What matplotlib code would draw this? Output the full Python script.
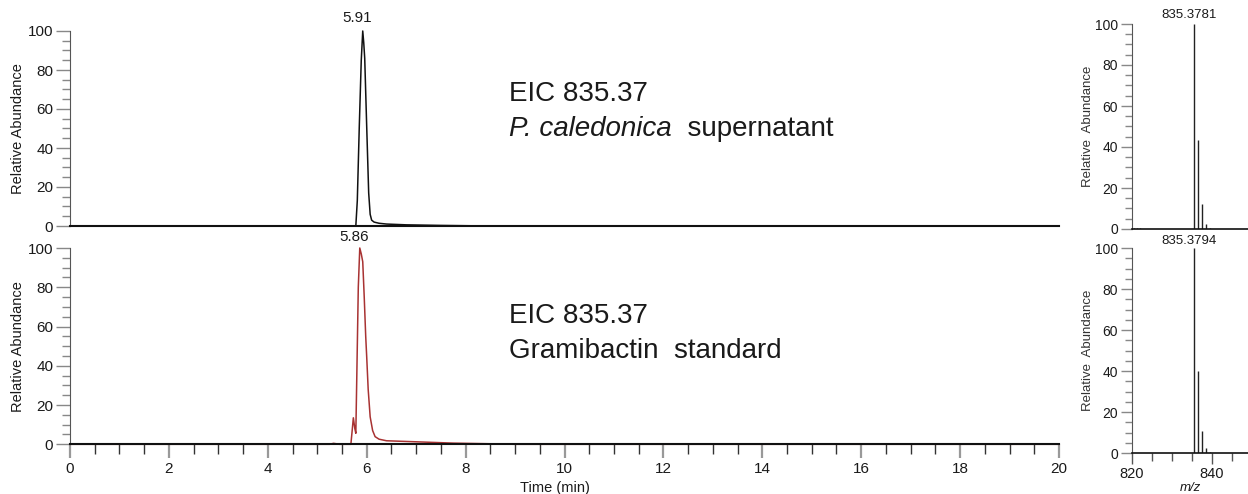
import matplotlib
matplotlib.use("Agg")
import matplotlib.pyplot as plt
from matplotlib.ticker import MultipleLocator

plt.rcParams['font.family'] = ['Liberation Sans', 'DejaVu Sans']

# chromatogram, P. caledonica supernatant (EIC 835.37)
sup_time = [0, 5.78, 5.81, 5.85, 5.89, 5.92, 5.94, 5.96, 6.00, 6.04, 6.07, 6.10,
            6.15, 6.25, 6.40, 6.80, 7.50, 8.50, 20]
sup_int = [0, 0, 13, 51, 85, 100, 94, 86, 51, 17, 6, 3,
           2.0, 1.4, 1.0, 0.6, 0.3, 0, 0]

# chromatogram, gramibactin standard (EIC 835.37)
std_time = [0, 5.25, 5.33, 5.45, 5.68, 5.71, 5.73, 5.76, 5.78, 5.80, 5.83, 5.86,
            5.89, 5.92, 5.95, 5.98, 6.00, 6.03, 6.07, 6.12, 6.17, 6.25, 6.40,
            7.08, 7.75, 8.43, 9.0, 20]
std_int = [0, 0, 0.5, 0, 0, 8, 13.5, 8, 5.6, 35, 80, 100,
           97, 93, 75, 55, 44.6, 28, 14, 7, 3.9, 2.6, 1.8,
           1.2, 0.6, 0.3, 0, 0]

# mass spectra
ms_top_mz = [820.6, 821.3, 822.1, 835.3781, 836.38, 837.38, 838.38, 839.38]
ms_top_int = [0.7, 0.5, 0.4, 100, 43.5, 12, 2.5, 0.6]
ms_bot_mz = [835.3794, 836.38, 837.38, 838.38, 839.38]
ms_bot_int = [100, 40, 10.5, 2.5, 0.5]

W, H = 1248, 494
fig = plt.figure(figsize=(W / 100, H / 100), dpi=100)

ax1 = fig.add_axes([70 / W, 1 - 226 / H, 989 / W, 195 / H])
ax2 = fig.add_axes([70 / W, 1 - 444.3 / H, 989 / W, 196.3 / H])
ms1 = fig.add_axes([1132 / W, 1 - 229 / H, 116 / W, 205 / H])
ms2 = fig.add_axes([1132 / W, 1 - 453 / H, 116 / W, 205 / H])

txt = '#1a1a1a'


def style_y(ax, fs, maj_len, min_len):
    for s in ['top', 'right']:
        ax.spines[s].set_visible(False)
    ax.spines['left'].set_color('#555555')
    ax.spines['bottom'].set_color('#111111')
    ax.set_ylim(0, 100)
    ax.yaxis.set_major_locator(MultipleLocator(20))
    ax.yaxis.set_minor_locator(MultipleLocator(5))
    ax.tick_params(axis='y', which='major', length=maj_len, width=1, color='#888888',
                   labelsize=fs, labelcolor=txt, pad=2)
    ax.tick_params(axis='y', which='minor', length=min_len, width=1, color='#888888')


# chromatograms
ax1.plot(sup_time, sup_int, color='#111111', lw=1.1, clip_on=False)
ax2.plot(std_time, std_int, color='#a83232', lw=1.1, clip_on=False)
for ax in (ax1, ax2):
    style_y(ax, 11, 10, 6)
    ax.set_xlim(0, 20)
    ax.set_ylabel('Relative Abundance', fontsize=10.5, color=txt, labelpad=2)
    ax.spines['bottom'].set_linewidth(1.5)

ax1.tick_params(axis='x', bottom=False, labelbottom=False)
ax2.xaxis.set_major_locator(MultipleLocator(2))
ax2.xaxis.set_minor_locator(MultipleLocator(0.5))
ax2.tick_params(axis='x', which='major', length=10, width=1.6, color='#999999',
                labelsize=11, labelcolor=txt, pad=3)
ax2.tick_params(axis='x', which='minor', length=7, width=1, color='#333333')
ax2.set_xlabel('Time (min)', fontsize=10.5, color=txt, labelpad=3)
ax2.xaxis.set_label_coords(0.49, -0.185)

ax1.annotate('5.91', (5.91, 100), xytext=(-4, 4), textcoords='offset points',
             ha='center', va='bottom', fontsize=11, color=txt, annotation_clip=False)
ax2.annotate('5.86', (5.86, 100), xytext=(-4, 3), textcoords='offset points',
             ha='center', va='bottom', fontsize=11, color=txt, annotation_clip=False)

ax1.text(0.444, 0.64, 'EIC 835.37', transform=ax1.transAxes, fontsize=20, color=txt)
sp = ax1.text(0.444, 0.46, 'P. caledonica', transform=ax1.transAxes, fontsize=20,
              fontstyle='italic', color=txt)
ax1.annotate('  supernatant', xy=(1, 0), xycoords=sp, va='bottom', ha='left',
             fontsize=20, color=txt)
ax2.text(0.444, 0.62, 'EIC 835.37', transform=ax2.transAxes, fontsize=20, color=txt)
ax2.text(0.444, 0.44, 'Gramibactin  standard', transform=ax2.transAxes, fontsize=20, color=txt)

# mass spectra
ms1.vlines(ms_top_mz, 0, ms_top_int, color='#222222', lw=1)
ms2.vlines(ms_bot_mz, 0, ms_bot_int, color='#222222', lw=1)
for ax in (ms1, ms2):
    style_y(ax, 10, 8, 5)
    ax.set_xlim(820, 849)
    ax.set_ylabel('Relative  Abundance', fontsize=9.5, color='#333333', labelpad=1)
    ax.spines['bottom'].set_linewidth(1.2)

ms1.tick_params(axis='x', bottom=False, labelbottom=False)
ms2.xaxis.set_major_locator(MultipleLocator(20))
ms2.xaxis.set_minor_locator(MultipleLocator(5))
ms2.tick_params(axis='x', which='major', length=8, width=1, color='#555555',
                labelsize=10.5, labelcolor=txt, pad=2)
ms2.tick_params(axis='x', which='minor', length=6, width=1, color='#555555')
ms2.set_xlabel('m/z', fontsize=9.5, fontstyle='italic', color=txt, labelpad=1)

ms1.annotate('835.3781', (835.3781, 100), xytext=(-3, 2), textcoords='offset points',
             ha='center', va='bottom', fontsize=9.5, color=txt, annotation_clip=False)
ms2.annotate('835.3794', (835.3794, 100), xytext=(-3, 1), textcoords='offset points',
             ha='center', va='bottom', fontsize=9.5, color=txt, annotation_clip=False)

fig.savefig('out.png', dpi=100)
